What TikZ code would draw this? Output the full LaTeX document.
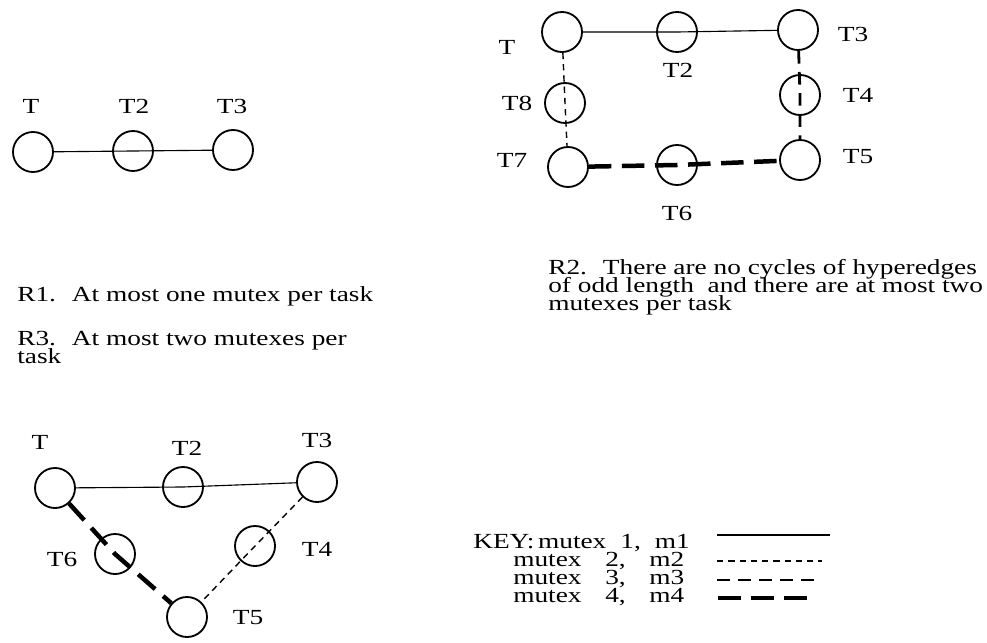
\documentclass[tikz,border=0pt]{standalone}
\usepackage{fontspec}
\setmainfont{Liberation Serif}[FakeStretch=1.27]

\begin{document}
\begin{tikzpicture}[x=0.025cm,y=-0.025cm]
\tikzset{
  task/.style={circle,draw,line width=1.3pt,minimum size=1cm,inner sep=0pt},
  tname/.style={font=\fontsize{15.3}{18}\selectfont,inner sep=0pt},
  rule/.style={font=\fontsize{15.3}{18}\selectfont,anchor=base west,inner sep=0pt},
  m1/.style={line width=0.8pt},
  m2/.style={line width=1pt,dash pattern=on 4.5pt off 3.5pt},
  m3/.style={line width=2pt,dash pattern=on 9pt off 6pt},
  m4/.style={line width=3.2pt,dash pattern=on 16pt off 7.5pt}
}
    \useasboundingbox (0,0) rectangle (987,643);

    % R1: one mutex
    \node[task] (a1) at (33,152) {};
    \node[task] (a2) at (133,151) {};
    \node[task] (a3) at (233,150) {};
    \node[tname] (la1) at (31,106) {T};
    \node[tname] (la2) at (134,106) {T2};
    \node[tname] (la3) at (232,106) {T3};
    \draw[m1] (a1) -- (a2.center) -- (a3);

    % R2: even cycle
    \node[task] (b1) at (562,32) {};
    \node[task] (b2) at (677,32) {};
    \node[task] (b3) at (798,30) {};
    \node[task] (b4) at (800,95) {};
    \node[task] (b5) at (800,160) {};
    \node[task] (b6) at (677,165) {};
    \node[task] (b7) at (568,167) {};
    \node[task] (b8) at (565,103) {};
    \node[tname] (lb1) at (507,47) {T};
    \node[tname] (lb2) at (678,70) {T2};
    \node[tname] (lb3) at (853,34) {T3};
    \node[tname] (lb4) at (858,95) {T4};
    \node[tname] (lb5) at (858,157) {T5};
    \node[tname] (lb6) at (677,213) {T6};
    \node[tname] (lb7) at (512,160) {T7};
    \node[tname] (lb8) at (517,103) {T8};
    \draw[m1] (b1) -- (b2.center) -- (b3);
    \draw[m2] (b1) -- (b8.center) -- (b7);
    \draw[m3] (b3) -- (b4.center) -- (b5);
    \draw[m4] (b7) -- (b6.center) -- (b5);

    % R3: triangle
    \node[task] (c1) at (55,488) {};
    \node[task] (c2) at (183,487) {};
    \node[task] (c3) at (317,482) {};
    \node[task] (c4) at (255,546) {};
    \node[task] (c5) at (187,617) {};
    \node[task] (c6) at (115,554) {};
    \node[tname] (lc1) at (40,442) {T};
    \node[tname] (lc2) at (187,448) {T2};
    \node[tname] (lc3) at (317,440) {T3};
    \node[tname] (lc4) at (317,549) {T4};
    \node[tname] (lc5) at (248,618) {T5};
    \node[tname] (lc6) at (62,559) {T6};
    \draw[m1] (c1) -- (c2.center) -- (c3);
    \draw[m2] (c3) -- (c4.center) -- (c5);
    \draw[m4] (c1) -- (c6.center) -- (c5);

    % rules
    \node[rule] (r1) at (17,302) {R1.~ At most one mutex per task};
    \node[rule] (r3a) at (17,345) {R3.~ At most two mutexes per};
    \node[rule] (r3b) at (17,363) {task};
    \node[rule] (r2a) at (548,274) {R2.~ There are no cycles of hyperedges};
    \node[rule] (r2b) at (548,292) {of odd length~ and there are at most two};
    \node[rule] (r2c) at (548,310) {mutexes per task};

    % key
    \node[rule] (key1) at (473,548) {KEY:\,mutex\hspace{.65em}1,\hspace{.65em}m1};
    \node[rule] (key2) at (513,566) {mutex\hspace{1.1em}2,\hspace{1.1em}m2};
    \node[rule] (key3) at (513,584) {mutex\hspace{1.1em}3,\hspace{1.1em}m3};
    \node[rule] (key4) at (513,602) {mutex\hspace{1.1em}4,\hspace{1.1em}m4};
    \coordinate (k1) at (717,535);
    \coordinate (k2) at (717,561);
    \coordinate (k3) at (717,580);
    \coordinate (k4) at (718,598);
    \draw[m1] (k1) -- ++(113,0);
    \draw[m2] (k2) -- ++(105,0);
    \draw[m3] (k3) -- ++(104,0);
    \draw[m4] (k4) -- ++(97,0);
\end{tikzpicture}
\end{document}
